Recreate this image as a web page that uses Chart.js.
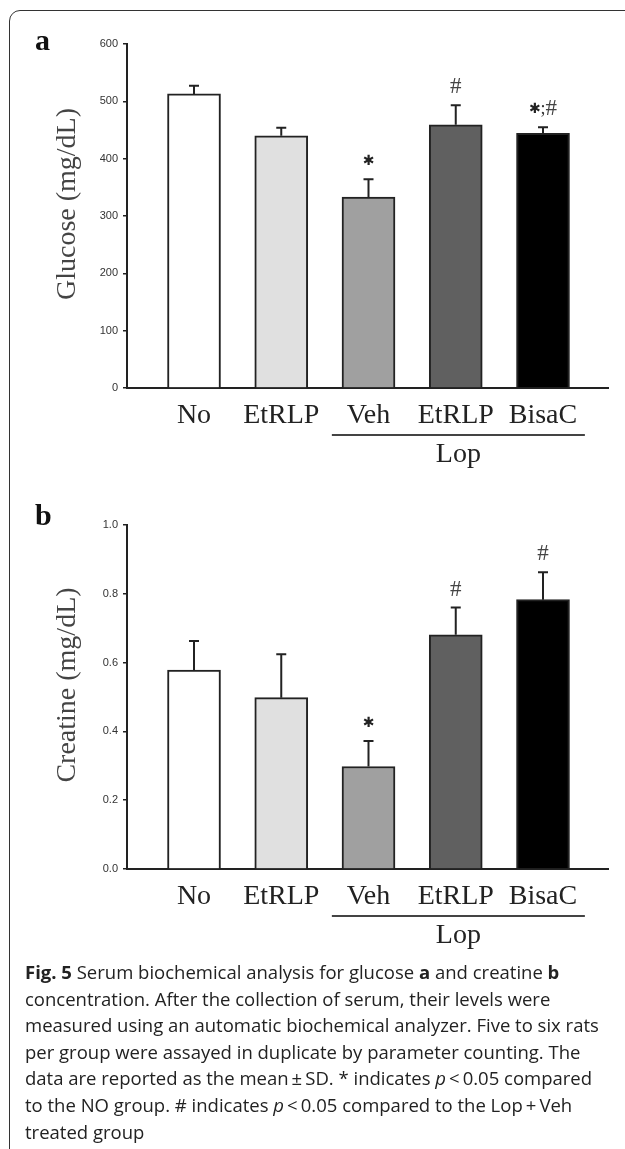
<!DOCTYPE html>
<html>
<head>
<meta charset="utf-8">
<script src="https://cdn.jsdelivr.net/npm/chart.js@4.4.0/dist/chart.umd.min.js"></script>
<style>
  html, body { margin: 0; padding: 0; background: #fff; width: 625px; height: 1149px; overflow: hidden; }
  .frame { position: absolute; left: 9px; top: 10px; width: 640px; height: 1170px; border: 1.5px solid #333; border-radius: 11px; box-sizing: border-box; }
  .panel { position: absolute; left: 0; width: 625px; height: 480px; }
  #panelA { top: 0; }
  #panelB { top: 481px; }
  .caption { position: absolute; left: 25px; top: 959px; font-family: "Open Sans", sans-serif; font-size: 18.5px; line-height: 26.6px; color: #222; white-space: nowrap; }
</style>
</head>
<body>
<div class="frame"></div>
<div class="panel" id="panelA"><canvas id="glucoseChart"></canvas></div>
<div class="panel" id="panelB"><canvas id="creatineChart"></canvas></div>
<div class="caption">
  <b>Fig. 5</b> Serum biochemical analysis for glucose <b>a</b> and creatine <b>b</b><br>
  concentration. After the collection of serum, their levels were<br>
  measured using an automatic biochemical analyzer. Five to six rats<br>
  per group were assayed in duplicate by parameter counting. The<br>
  data are reported as the mean&thinsp;&plusmn;&thinsp;SD. * indicates <i>p</i>&thinsp;&lt;&thinsp;0.05 compared<br>
  to the NO group. # indicates <i>p</i>&thinsp;&lt;&thinsp;0.05 compared to the Lop&thinsp;+&thinsp;Veh<br>
  treated group
</div>
<script>
const groups = ["No", "EtRLP", "Veh", "EtRLP", "BisaC"];
const barColors = ["#ffffff", "#e0e0e0", "#a0a0a0", "#606060", "#000000"];

const glucose = [513, 440, 333, 459, 444];
const glucoseSD = [14, 14, 31, 34, 11];
const glucoseMarks = ["", "", "*", "#", "*;#"];
const glucoseTicks = [0, 100, 200, 300, 400, 500, 600];

const creatine = [0.578, 0.498, 0.298, 0.681, 0.783];
const creatineSD = [0.085, 0.126, 0.074, 0.079, 0.08];
const creatineMarks = ["", "", "*", "#", "#"];
const creatineTicks = [0, 0.2, 0.4, 0.6, 0.8, 1.0];

const serif = "'Liberation Serif', 'Times New Roman', serif";

function makeChart(canvasId, letter, yTitle, values, sds, marks, yTicks, decimals) {
  // error bars, significance marks, titles and the Lop bracket
  const extras = {
    id: "extras",
    afterDatasetsDraw(chart) {
      const { ctx, scales: { y } } = chart;
      const meta = chart.getDatasetMeta(0);
      ctx.save();
      ctx.strokeStyle = "#222";
      ctx.lineWidth = 2;
      values.forEach((v, i) => {
        const bar = meta.data[i];
        const top = y.getPixelForValue(v + sds[i]);
        ctx.beginPath();
        ctx.moveTo(bar.x, bar.y);
        ctx.lineTo(bar.x, top);
        ctx.moveTo(bar.x - 5, top);
        ctx.lineTo(bar.x + 5, top);
        ctx.stroke();

        if (!marks[i]) return;
        const parts = marks[i].split("").map(ch => {
          if (ch === "*") return { t: "\u2731", f: "14px 'DejaVu Sans'", c: "#222" };
          if (ch === "#") return { t: "#", f: "23px " + serif, c: "#444" };
          return { t: ch, f: "18px " + serif, c: "#333" };
        });
        let total = 0;
        parts.forEach(p => { ctx.font = p.f; p.w = ctx.measureText(p.t).width; total += p.w; });
        let cx = bar.x - total / 2;
        const cy = top - 18;
        ctx.textBaseline = "middle";
        ctx.textAlign = "left";
        parts.forEach(p => {
          ctx.font = p.f;
          ctx.fillStyle = p.c;
          ctx.fillText(p.t, cx, cy);
          cx += p.w;
        });
      });
      ctx.restore();
    },
    afterDraw(chart) {
      const { ctx, chartArea, scales: { x } } = chart;
      ctx.save();
      // panel letter
      ctx.fillStyle = "#111";
      ctx.font = "bold 30px " + serif;
      ctx.textAlign = "left";
      ctx.textBaseline = "alphabetic";
      ctx.fillText(letter, 35, letter === "a" ? 50 : 44);

      // y title
      ctx.save();
      ctx.translate(68, 204);
      ctx.rotate(-Math.PI / 2);
      ctx.font = "28px " + serif;
      ctx.fillStyle = "#444";
      ctx.textAlign = "center";
      ctx.textBaseline = "middle";
      ctx.fillText(yTitle, 0, 0);
      ctx.restore();

      // Lop bracket under the last three groups
      const x0 = x.getPixelForValue(3 - 0.42);
      const x1 = x.getPixelForValue(5 + 0.48);
      const yl = chartArea.bottom + 47;
      ctx.strokeStyle = "#444";
      ctx.lineWidth = 2;
      ctx.beginPath();
      ctx.moveTo(x0, yl);
      ctx.lineTo(x1, yl);
      ctx.stroke();
      ctx.fillStyle = "#222";
      ctx.font = "28px " + serif;
      ctx.textAlign = "center";
      ctx.textBaseline = "alphabetic";
      ctx.fillText("Lop", (x0 + x1) / 2, yl + 27);
      ctx.restore();
    }
  };

  return new Chart(document.getElementById(canvasId), {
    type: "bar",
    data: {
      datasets: [{
        data: values.map((v, i) => ({ x: i + 1, y: v })),
        backgroundColor: barColors,
        borderColor: "#222",
        borderWidth: 2,
        barThickness: 53
      }]
    },
    options: {
      responsive: true,
      maintainAspectRatio: false,
      animation: false,
      layout: { padding: { top: 44, right: 17, left: 0, bottom: 0 } },
      plugins: { legend: { display: false }, tooltip: { enabled: false } },
      scales: {
        x: {
          type: "linear",
          offset: false,
          min: 0.232,
          max: 5.745,
          afterBuildTicks: scale => { scale.ticks = groups.map((g, i) => ({ value: i + 1 })); },
          afterFit: scale => { scale.height = 92; },
          grid: { display: false, drawTicks: false, offset: false },
          border: { display: true, color: "#222", width: 2 },
          ticks: {
            autoSkip: false,
            maxRotation: 0,
            padding: 11,
            color: "#222",
            font: { family: serif, size: 28 },
            callback: v => groups[v - 1]
          }
        },
        y: {
          min: yTicks[0],
          max: yTicks[yTicks.length - 1],
          afterBuildTicks: scale => { scale.ticks = yTicks.map(v => ({ value: v })); },
          afterFit: scale => { scale.width = 127; },
          grid: { drawOnChartArea: false, tickLength: 4, color: "#222", lineWidth: 1.5 },
          border: { display: true, color: "#222", width: 2 },
          ticks: {
            padding: 5,
            color: "#333",
            font: { family: "'Liberation Sans', Arial, sans-serif", size: 11 },
            callback: v => v.toFixed(decimals)
          }
        }
      }
    },
    plugins: [extras]
  });
}

makeChart("glucoseChart", "a", "Glucose (mg/dL)", glucose, glucoseSD, glucoseMarks, glucoseTicks, 0);
makeChart("creatineChart", "b", "Creatine (mg/dL)", creatine, creatineSD, creatineMarks, creatineTicks, 1);
</script>
</body>
</html>
